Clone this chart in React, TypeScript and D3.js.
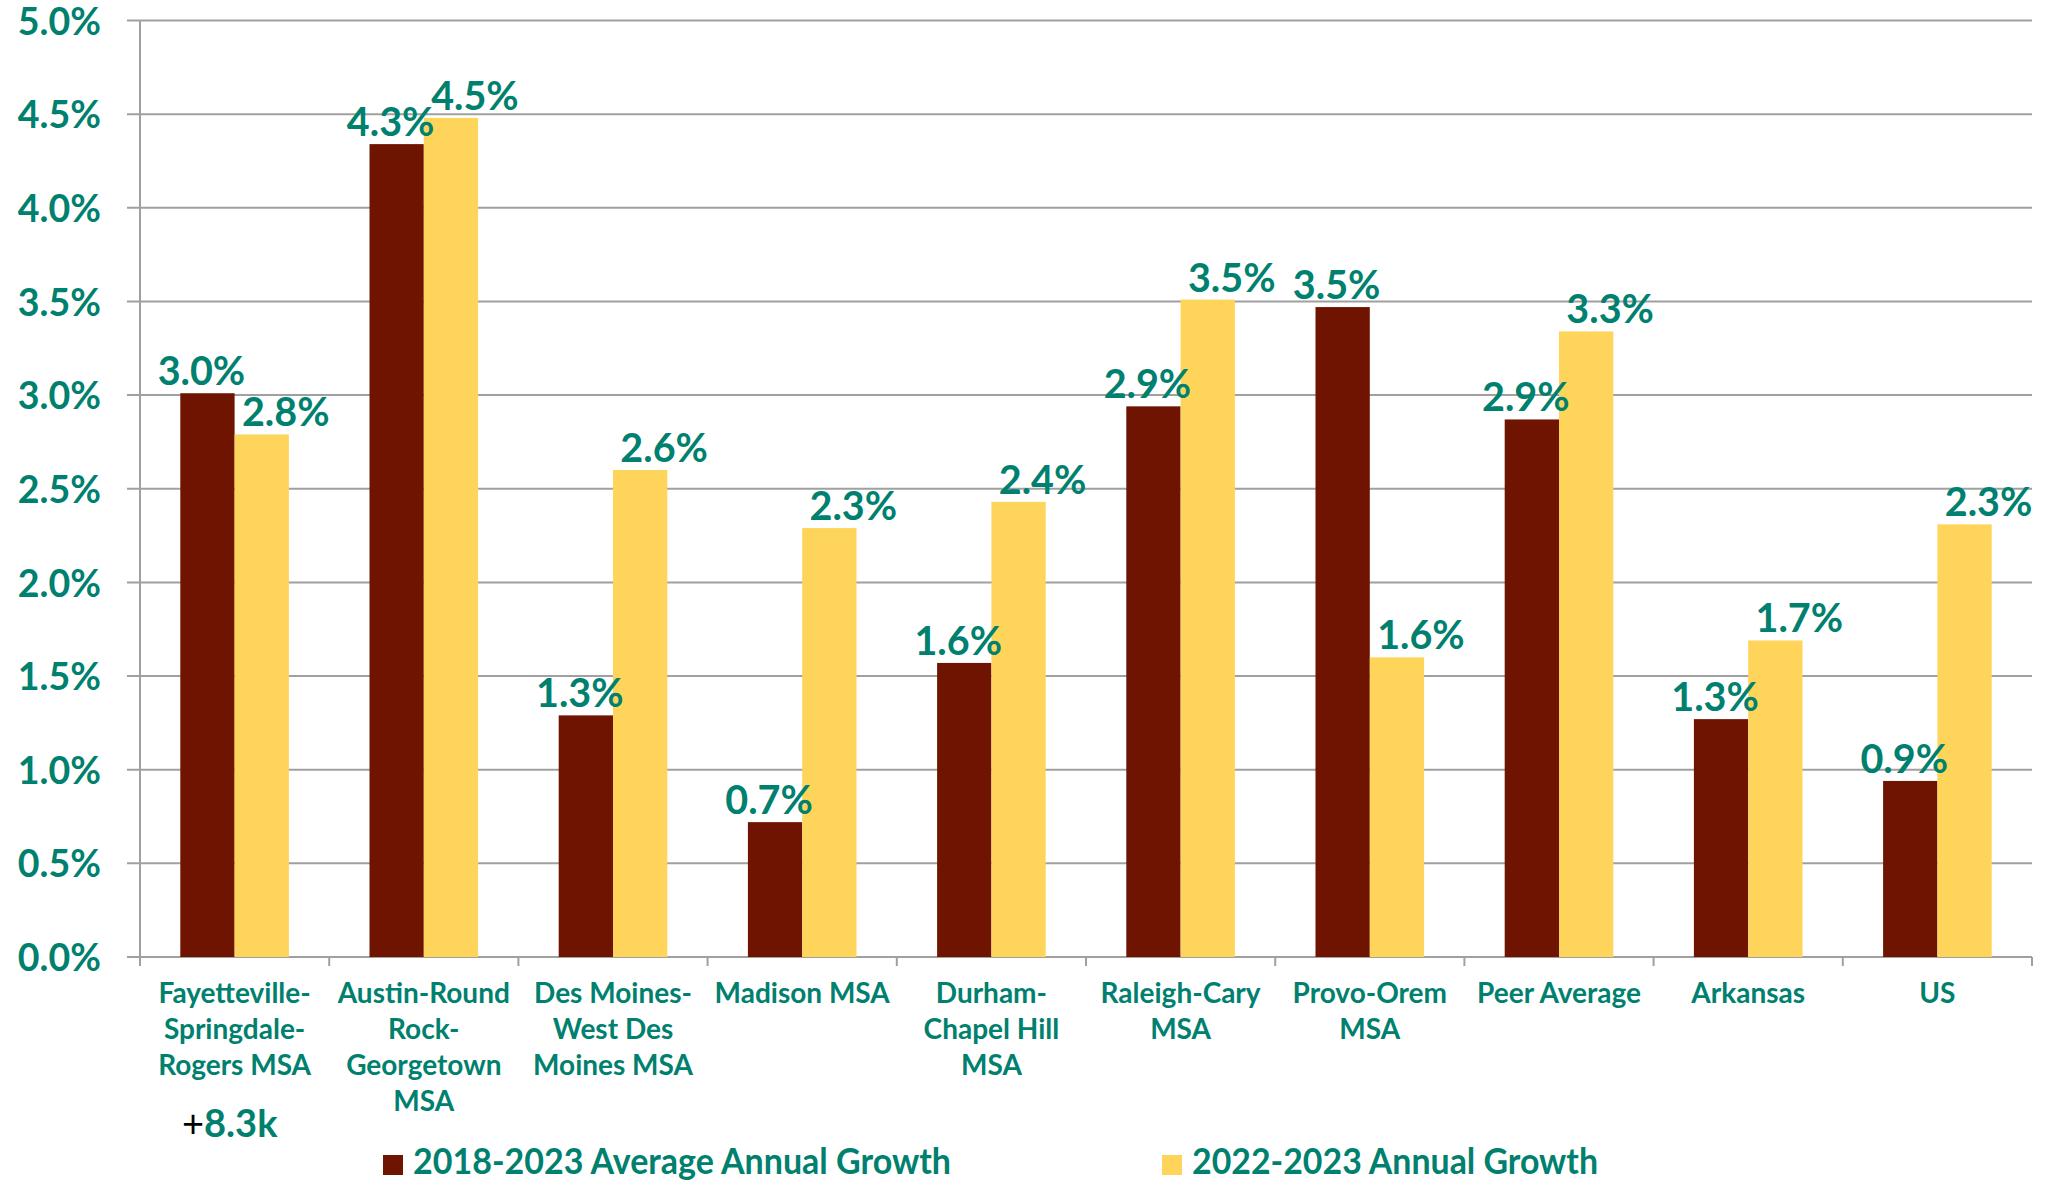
import React, { useEffect } from 'react';
import * as d3 from 'd3';

// categories, wrapped the same way as the source chart
const categories = [
  'Fayetteville-Springdale-Rogers MSA',
  'Austin-Round Rock-Georgetown MSA',
  'Des Moines-West Des Moines MSA',
  'Madison MSA',
  'Durham-Chapel Hill MSA',
  'Raleigh-Cary MSA',
  'Provo-Orem MSA',
  'Peer Average',
  'Arkansas',
  'US',
];
const categoryLines = [
  ['Fayetteville-', 'Springdale-', 'Rogers MSA'],
  ['Austin-Round', 'Rock-', 'Georgetown', 'MSA'],
  ['Des Moines-', 'West Des', 'Moines MSA'],
  ['Madison MSA'],
  ['Durham-', 'Chapel Hill', 'MSA'],
  ['Raleigh-Cary', 'MSA'],
  ['Provo-Orem', 'MSA'],
  ['Peer Average'],
  ['Arkansas'],
  ['US'],
];

const seriesNames = ['2018-2023 Average Annual Growth', '2022-2023 Annual Growth'];
const avgGrowth = [3.01, 4.34, 1.29, 0.72, 1.57, 2.94, 3.47, 2.87, 1.27, 0.94];
const annualGrowth = [2.79, 4.48, 2.6, 2.29, 2.43, 3.51, 1.6, 3.34, 1.69, 2.31];
const yTicks = [0, 0.5, 1, 1.5, 2, 2.5, 3, 3.5, 4, 4.5, 5];
const note = '8.3k';

const W = 2052;
const H = 1182;
const TEAL = '#00806E';
const colors = ['#6E1400', '#FFD45A'];
const FONT = 'Lato, "Open Sans", sans-serif';

const App = () => {
  useEffect(() => {
    document.body.style.margin = '0';
  }, []);

  const left = 140, right = 2032, top = 20.5, bottom = 957;

  const x0 = d3.scaleBand<string>().domain(categories).range([left, right]).paddingInner(0.426).paddingOuter(0.213);
  const x1 = d3.scaleBand<string>().domain(seriesNames).range([0, x0.bandwidth()]);
  const y = d3.scaleLinear().domain([0, 5]).range([bottom, top]);

  const series = [avgGrowth, annualGrowth];
  const labelDx = [-6, 24];
  const fmt = (v: number) => d3.format('.1f')(v) + '%';

  return (
    <svg width={W} height={H} style={{ display: 'block', background: '#fff' }} fontFamily={FONT}>
      {/* gridlines + y ticks */}
      {yTicks.map(t => (
        <g key={t}>
          <line x1={left - 13} x2={right} y1={y(t)} y2={y(t)} stroke="#A0A0A0" strokeWidth={2} />
          <text x={101} y={y(t) + 1} dy="0.35em" textAnchor="end" fill={TEAL} fontWeight={700} fontSize={37.5}>
            {fmt(t)}
          </text>
        </g>
      ))}
      <line x1={left} x2={left} y1={top} y2={bottom} stroke="#A0A0A0" strokeWidth={2} />

      {/* x-axis ticks between categories */}
      {d3.range(categories.length + 1).map(i => {
        const xx = left + i * x0.step();
        return <line key={i} x1={xx} x2={xx} y1={bottom} y2={bottom + 9} stroke="#A0A0A0" strokeWidth={2} />;
      })}

      {/* bars */}
      {categories.map((c, i) => (
        <g key={c} transform={`translate(${x0(c)},0)`}>
          {seriesNames.map((s, k) => (
            <rect key={s} x={x1(s)} y={y(series[k][i])} width={x1.bandwidth()} height={bottom - y(series[k][i])} fill={colors[k]} />
          ))}
        </g>
      ))}

      {/* data labels */}
      {categories.map((c, i) =>
        seriesNames.map((s, k) => (
          <text
            key={c + s}
            x={(x0(c) as number) + (x1(s) as number) + x1.bandwidth() / 2 + labelDx[k]}
            y={y(series[k][i]) - 8}
            textAnchor="middle"
            fill={TEAL}
            fontWeight={700}
            fontSize={39.5}
          >
            {fmt(series[k][i])}
          </text>
        ))
      )}

      {/* category labels */}
      {categories.map((c, i) => (
        <text key={c} textAnchor="middle" fill={TEAL} fontWeight={700} fontSize={28}>
          {categoryLines[i].map((ln, j) => (
            <tspan key={j} x={(x0(c) as number) + x0.bandwidth() / 2} y={1003 + j * 36}>
              {ln}
            </tspan>
          ))}
        </text>
      ))}

      {/* note under first category */}
      <text x={182} y={1137} fontSize={38}>
        <tspan fill="#000" fontWeight={400}>+</tspan>
        <tspan fill={TEAL} fontWeight={700}>{note}</tspan>
      </text>

      {/* legend */}
      {seriesNames.map((s, k) => {
        const lx = [383, 1162][k];
        const tw = [538, 406][k];
        return (
          <g key={s}>
            <rect x={lx} y={1155} width={20} height={20} fill={colors[k]} />
            <text x={lx + 30} y={1174} fill={TEAL} fontWeight={700} fontSize={37} textLength={tw} lengthAdjust="spacingAndGlyphs">
              {s}
            </text>
          </g>
        );
      })}
    </svg>
  );
};

export default App;
